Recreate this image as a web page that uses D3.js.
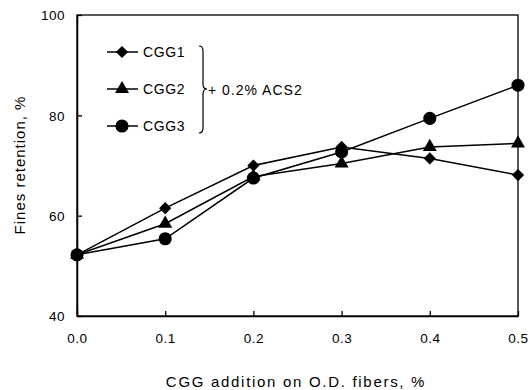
<!DOCTYPE html>
<html><head><meta charset="utf-8">
<script src="https://cdn.jsdelivr.net/npm/d3@7"></script>
<style>body{margin:0;background:#fff}svg{display:block}text{font-family:"Liberation Sans",Arial,sans-serif;fill:#000}</style>
</head><body><svg id="c" width="530" height="390"></svg>
<script>
const xValues = [0, 0.1, 0.2, 0.3, 0.4, 0.5];
const cgg1 = [52.2, 61.5, 70.0, 73.7, 71.4, 68.1];
const cgg2 = [52.2, 58.4, 67.8, 70.4, 73.7, 74.4];
const cgg3 = [52.2, 55.4, 67.5, 72.7, 79.4, 86.0];
const seriesNames = ["CGG1", "CGG2", "CGG3"];
const seriesShapes = ["diamond", "triangle", "circle"];
const xTicks = [0, 0.1, 0.2, 0.3, 0.4, 0.5];
const yTicks = [40, 60, 80, 100];
const bracketLabel = "+ 0.2% ACS2";
const xTitle = "CGG addition on O.D. fibers, %";
const yTitle = "Fines retention, %";

const svg = d3.select("#c");
const L = 77, R = 518, T = 15, B = 316;
const x = d3.scaleLinear().domain([0, 0.5]).range([L, R]);
const y = d3.scaleLinear().domain([40, 100]).range([B, T]);

// frame
svg.append("rect").attr("x", L).attr("y", T).attr("width", R - L).attr("height", B - T)
  .attr("fill", "none").attr("stroke", "#000").attr("stroke-width", 1.3);

const xa = svg.append("g").attr("transform", `translate(0,${B})`)
  .call(d3.axisBottom(x).tickValues(xTicks).tickSizeInner(-5).tickSizeOuter(0).tickPadding(17).tickFormat(d3.format(".1f")));
const ya = svg.append("g").attr("transform", `translate(${L},0)`)
  .call(d3.axisLeft(y).tickValues(yTicks).tickSizeInner(-5).tickSizeOuter(0).tickPadding(12).tickFormat(d3.format("d")));
[xa, ya].forEach(g => {
  g.select(".domain").attr("stroke-width", 1.6);
  g.selectAll(".tick line").attr("stroke-width", 1.3);
  g.selectAll("text").style("font-size", "13.5px").style("letter-spacing", "0.5px").attr("font-family", null);
});
ya.selectAll("text").attr("dy", "0.35em");

svg.append("text").attr("x", 296).attr("y", 387).attr("text-anchor", "middle")
  .style("font-size", "15px").style("letter-spacing", "1.7px").text(xTitle);
svg.append("text").attr("transform", "translate(25,165) rotate(-90)").attr("text-anchor", "middle")
  .style("font-size", "15px").style("letter-spacing", "1px").text(yTitle);

const sym = {
  diamond: d3.symbol().type(d3.symbolSquare).size(75),
  triangle: d3.symbol().type(d3.symbolTriangle).size(85),
  circle: d3.symbol().type(d3.symbolCircle).size(135)
};
const rot = { diamond: 45, triangle: 0, circle: 0 };
const allSeries = [cgg1, cgg2, cgg3];
const line = d3.line().x((d, i) => x(xValues[i])).y(d => y(d));
allSeries.forEach((s, k) => {
  svg.append("path").datum(s).attr("d", line).attr("fill", "none").attr("stroke", "#000").attr("stroke-width", 1.5);
});
allSeries.forEach((s, k) => {
  const sh = seriesShapes[k];
  svg.append("g").selectAll("path").data(s).join("path")
    .attr("transform", (d, i) => `translate(${x(xValues[i])},${y(d)}) rotate(${rot[sh]})`)
    .attr("d", sym[sh]()).attr("fill", "#000");
});

// legend
const legY = [52, 89, 126];
seriesNames.forEach((n, k) => {
  const sh = seriesShapes[k];
  svg.append("line").attr("x1", 107).attr("x2", 138).attr("y1", legY[k]).attr("y2", legY[k])
    .attr("stroke", "#000").attr("stroke-width", 1.5);
  svg.append("path").attr("transform", `translate(122,${legY[k]}) rotate(${rot[sh]})`).attr("d", sym[sh]()).attr("fill", "#000");
  svg.append("text").attr("x", 143).attr("y", legY[k]).attr("dy", "0.35em")
    .style("font-size", "14px").style("letter-spacing", "0.6px").text(n);
});
// brace
const bx = 199, by0 = 46, by1 = 133, bm = 89;
svg.append("path").attr("fill", "none").attr("stroke", "#000").attr("stroke-width", 1.2)
  .attr("d", `M${bx},${by0} Q${bx+4},${by0} ${bx+4},${by0+5} L${bx+4},${bm-5} Q${bx+4},${bm} ${bx+8},${bm} Q${bx+4},${bm} ${bx+4},${bm+5} L${bx+4},${by1-5} Q${bx+4},${by1} ${bx},${by1}`);
svg.append("text").attr("x", 208).attr("y", 90).attr("dy", "0.35em")
  .style("font-size", "14px").style("letter-spacing", "1px").text(bracketLabel);
</script></body></html>
